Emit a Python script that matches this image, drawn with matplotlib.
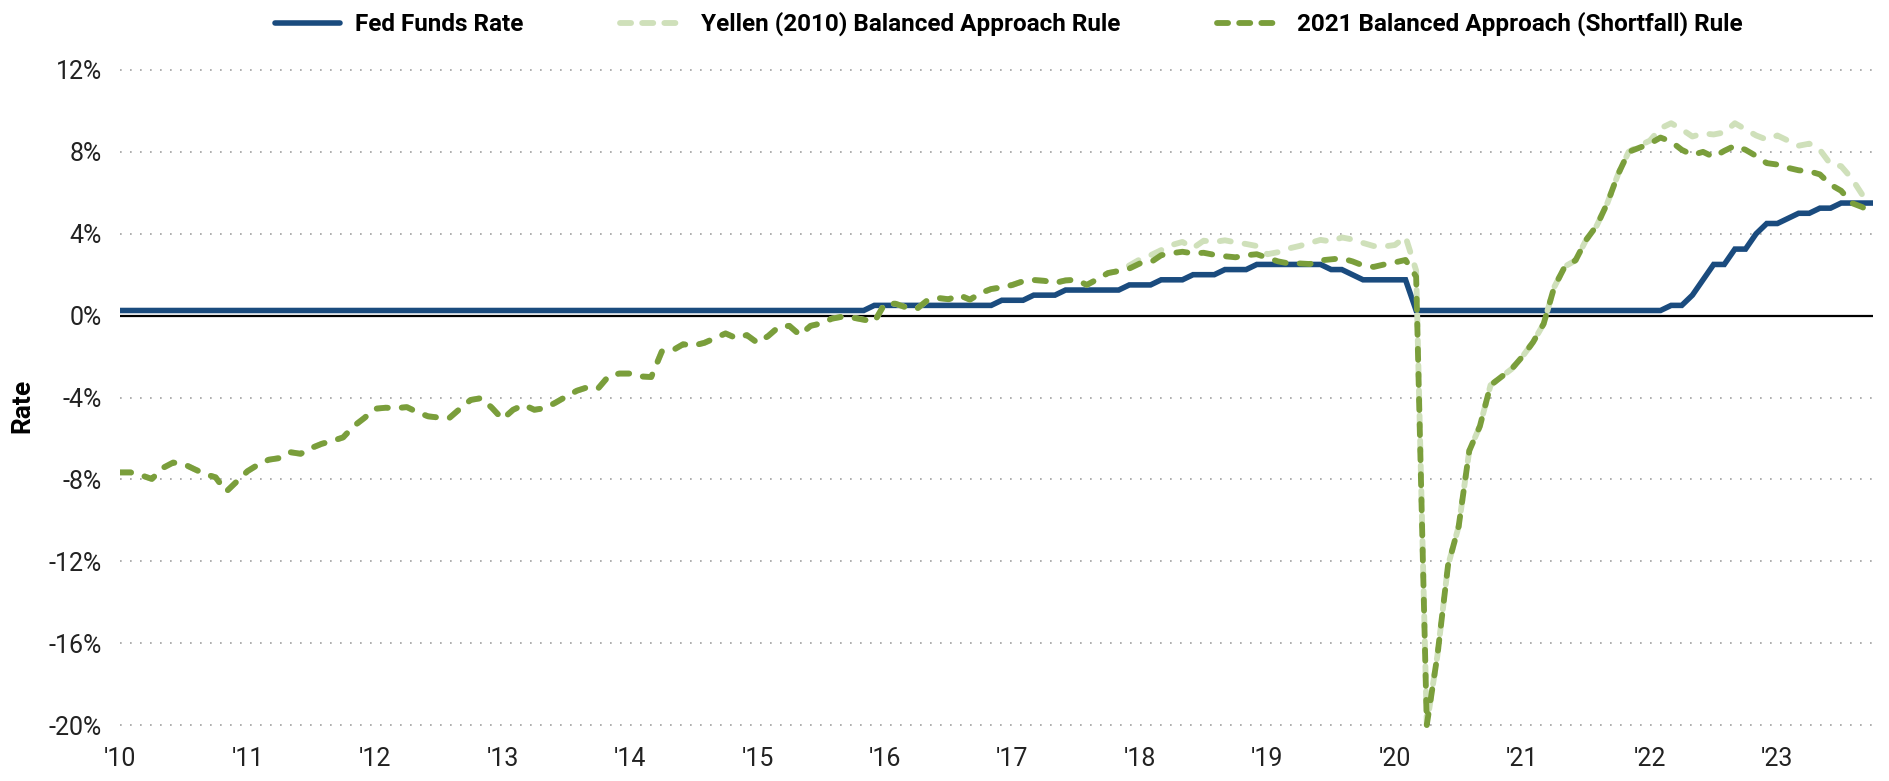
import matplotlib
matplotlib.use('Agg')
import matplotlib.pyplot as plt
from matplotlib.lines import Line2D
import numpy as np

plt.rcParams['font.family'] = ['Roboto', 'DejaVu Sans']

# monthly values, Jan 2010 .. Oct 2023 (one row per year)
fed_funds = [
    0.25, 0.25, 0.25, 0.25, 0.25, 0.25, 0.25, 0.25, 0.25, 0.25, 0.25, 0.25,
    0.25, 0.25, 0.25, 0.25, 0.25, 0.25, 0.25, 0.25, 0.25, 0.25, 0.25, 0.25,
    0.25, 0.25, 0.25, 0.25, 0.25, 0.25, 0.25, 0.25, 0.25, 0.25, 0.25, 0.25,
    0.25, 0.25, 0.25, 0.25, 0.25, 0.25, 0.25, 0.25, 0.25, 0.25, 0.25, 0.25,
    0.25, 0.25, 0.25, 0.25, 0.25, 0.25, 0.25, 0.25, 0.25, 0.25, 0.25, 0.25,
    0.25, 0.25, 0.25, 0.25, 0.25, 0.25, 0.25, 0.25, 0.25, 0.25, 0.25, 0.5,
    0.5, 0.5, 0.5, 0.5, 0.5, 0.5, 0.5, 0.5, 0.5, 0.5, 0.5, 0.75,
    0.75, 0.75, 1.0, 1.0, 1.0, 1.25, 1.25, 1.25, 1.25, 1.25, 1.25, 1.5,
    1.5, 1.5, 1.75, 1.75, 1.75, 2.0, 2.0, 2.0, 2.25, 2.25, 2.25, 2.5,
    2.5, 2.5, 2.5, 2.5, 2.5, 2.5, 2.25, 2.25, 2.0, 1.75, 1.75, 1.75,
    1.75, 1.75, 0.25, 0.25, 0.25, 0.25, 0.25, 0.25, 0.25, 0.25, 0.25, 0.25,
    0.25, 0.25, 0.25, 0.25, 0.25, 0.25, 0.25, 0.25, 0.25, 0.25, 0.25, 0.25,
    0.25, 0.25, 0.5, 0.5, 1.0, 1.75, 2.5, 2.5, 3.25, 3.25, 4.0, 4.5,
    4.5, 4.75, 5.0, 5.0, 5.25, 5.25, 5.5, 5.5, 5.5, 5.5,
]

yellen_rule = [
    -7.66, -7.66, -7.8, -7.98, -7.45, -7.18, -7.25, -7.5, -7.74, -7.9, -8.6, -8.1,
    -7.6, -7.28, -7.04, -6.96, -6.67, -6.75, -6.47, -6.26, -6.12, -5.95, -5.4, -5.0,
    -4.55, -4.5, -4.52, -4.47, -4.72, -4.92, -4.98, -5.0, -4.55, -4.12, -4.03, -4.5,
    -5.06, -4.6, -4.36, -4.6, -4.52, -4.25, -3.95, -3.67, -3.5, -3.56, -2.95, -2.83,
    -2.83, -2.97, -3.0, -1.75, -1.7, -1.4, -1.46, -1.33, -1.1, -0.87, -1.1, -0.95,
    -1.33, -1.0, -0.55, -0.5, -0.95, -0.5, -0.38, -0.15, -0.05, -0.1, -0.2, -0.3,
    0.6, 0.58, 0.4, 0.33, 0.75, 0.86, 0.8, 1.0, 0.78, 1.1, 1.3, 1.38,
    1.5, 1.68, 1.74, 1.7, 1.6, 1.72, 1.75, 1.5, 1.78, 2.08, 2.18, 2.45,
    2.75, 2.95, 3.2, 3.45, 3.6, 3.3, 3.66, 3.6, 3.68, 3.58, 3.5, 3.4,
    3.0, 3.1, 3.28, 3.4, 3.55, 3.7, 3.62, 3.82, 3.72, 3.55, 3.4, 3.38,
    3.45, 3.85, 2.2, -20.0, -16.6, -12.2, -10.3, -6.6, -5.4, -3.4, -3.0, -2.6,
    -2.0, -1.3, -0.4, 1.4, 2.4, 2.7, 3.7, 4.4, 5.5, 6.9, 8.0, 8.3,
    8.55, 9.15, 9.4, 9.1, 8.75, 8.9, 8.85, 8.95, 9.4, 9.1, 8.8, 8.6,
    8.8, 8.55, 8.3, 8.4, 8.1, 7.4, 7.3, 6.7, 5.9, 5.6,
]

shortfall_rule = [
    -7.66, -7.66, -7.8, -7.98, -7.45, -7.18, -7.25, -7.5, -7.74, -7.9, -8.6, -8.1,
    -7.6, -7.28, -7.04, -6.96, -6.67, -6.75, -6.47, -6.26, -6.12, -5.95, -5.4, -5.0,
    -4.55, -4.5, -4.52, -4.47, -4.72, -4.92, -4.98, -5.0, -4.55, -4.12, -4.03, -4.5,
    -5.06, -4.6, -4.36, -4.6, -4.52, -4.25, -3.95, -3.67, -3.5, -3.56, -2.95, -2.83,
    -2.83, -2.97, -3.0, -1.75, -1.7, -1.4, -1.46, -1.33, -1.1, -0.87, -1.1, -0.95,
    -1.33, -1.0, -0.55, -0.5, -0.95, -0.5, -0.38, -0.15, -0.05, -0.1, -0.2, -0.3,
    0.6, 0.58, 0.4, 0.33, 0.75, 0.86, 0.8, 1.0, 0.78, 1.1, 1.3, 1.38,
    1.5, 1.68, 1.74, 1.7, 1.6, 1.72, 1.75, 1.5, 1.78, 2.08, 2.18, 2.3,
    2.55, 2.6, 2.95, 3.05, 3.12, 3.04, 3.07, 2.97, 2.9, 2.85, 2.95, 3.0,
    2.82, 2.65, 2.55, 2.55, 2.52, 2.7, 2.75, 2.8, 2.65, 2.45, 2.38, 2.5,
    2.6, 2.72, 1.9, -20.0, -16.6, -12.2, -10.3, -6.6, -5.4, -3.4, -3.0, -2.6,
    -2.0, -1.3, -0.4, 1.4, 2.4, 2.7, 3.7, 4.4, 5.5, 6.9, 8.0, 8.2,
    8.4, 8.7, 8.5, 8.1, 7.85, 8.0, 7.75, 8.05, 8.3, 8.1, 7.8, 7.45,
    7.38, 7.22, 7.1, 7.05, 6.9, 6.4, 6.1, 5.5, 5.3, 4.95,
]

year_labels = ["'10", "'11", "'12", "'13", "'14", "'15", "'16",
               "'17", "'18", "'19", "'20", "'21", "'22", "'23"]
y_ticks = [-20, -16, -12, -8, -4, 0, 4, 8, 12]

blue = '#1a4b7e'
light_green = '#cfe0ba'
green = '#7a9e3b'

fig = plt.figure(figsize=(18.89, 7.81), dpi=100)
ax = fig.add_axes([120 / 1889, 1 - 733.2 / 781, 1753 / 1889, (733.2 - 61.8) / 781])

months = np.arange(len(fed_funds))

ax.axhline(0, color='black', lw=1.6, zorder=2)
ax.plot(months, fed_funds, color=blue, lw=4.0, solid_capstyle='round',
        solid_joinstyle='miter', zorder=3)
ax.plot(months, yellen_rule, color=light_green, lw=4.2, dashes=(1.9, 2.4),
        dash_capstyle='round', zorder=4)
ax.plot(months, shortfall_rule, color=green, lw=4.2, dashes=(1.9, 2.4),
        dash_capstyle='round', zorder=5)

ax.set_xlim(0, 165)
ax.set_ylim(-20.4, 12.4)
ax.set_xticks(np.arange(0, len(year_labels) * 12, 12))
ax.set_xticklabels(year_labels)
ax.set_yticks(y_ticks)
ax.set_yticklabels([f'{v}%' for v in y_ticks])

ax.yaxis.grid(True, color='#a0a0a0', ls=(0, (1, 5)), lw=1.2)
ax.set_axisbelow(True)
for s in ax.spines.values():
    s.set_visible(False)
ax.tick_params(axis='both', length=0, labelsize=18, colors='#222222')
ax.tick_params(axis='y', pad=13)
ax.tick_params(axis='x', pad=10)

fig.text(22 / 1889, 0.48, 'Rate', rotation=90, ha='center', va='center',
         fontsize=19, fontweight='bold', color='black')

handles = [
    Line2D([], [], color=blue, lw=4.0, solid_capstyle='round'),
    Line2D([], [], color=light_green, lw=4.2, dashes=(1.9, 1.9), dash_capstyle='round'),
    Line2D([], [], color=green, lw=4.2, dashes=(1.9, 1.9), dash_capstyle='round'),
]
labels = ['Fed Funds Rate', 'Yellen (2010) Balanced Approach Rule',
          '2021 Balanced Approach (Shortfall) Rule']
fig.legend(handles, labels, loc='center', bbox_to_anchor=(0.534, 0.969), ncol=3,
           frameon=False, prop={'size': 17.5, 'weight': 'bold'}, handlelength=2.7,
           columnspacing=4.0, handletextpad=0.6)

fig.savefig('out.png', dpi=100)
